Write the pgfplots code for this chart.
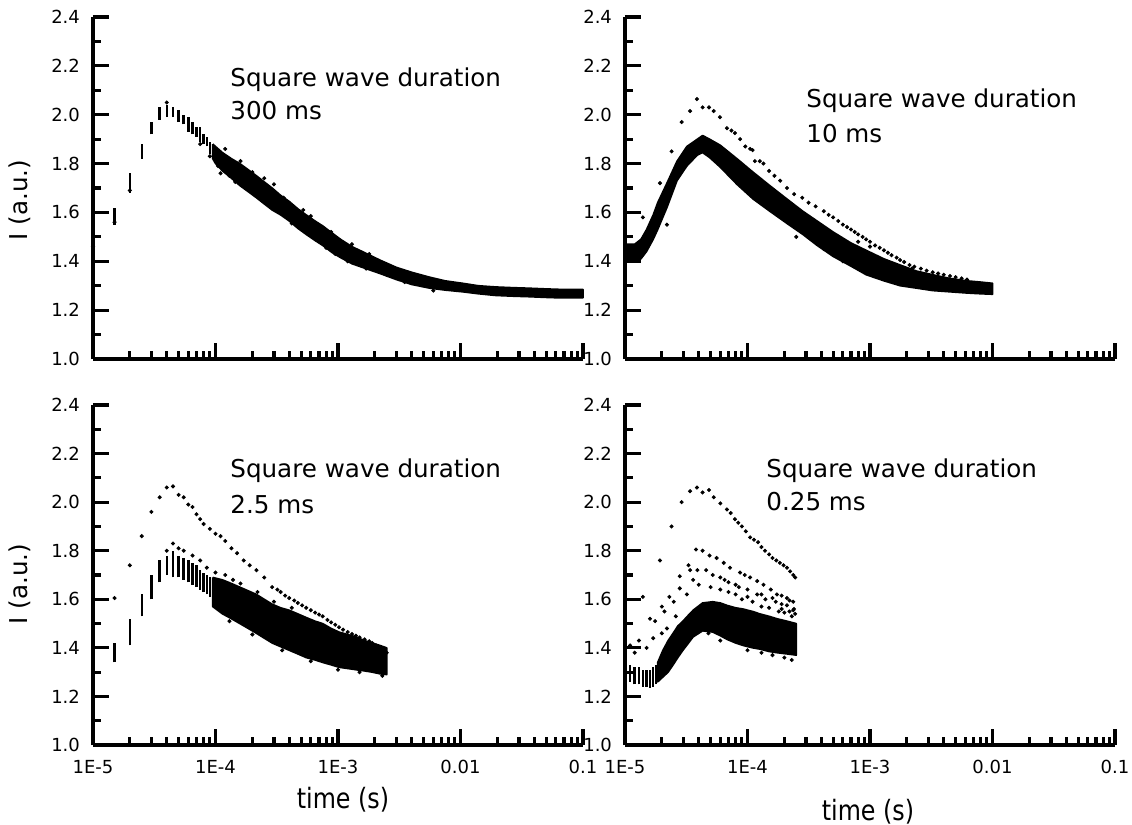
\documentclass[border=0pt]{standalone}
\usepackage{fontspec}
\setmainfont{DejaVu Sans}
\newfontfamily\condfont[FakeStretch=0.85]{DejaVu Sans}
\usepackage{pgfplots}
\pgfplotsset{compat=1.18}
\pgfplotsset{
  myPanel/.style={
    scale only axis, width=245pt,
    xmin=1e-5, xmax=0.1, ymin=1.0, ymax=2.4,
    axis lines=left, axis line style={-, line width=1.9pt},
    tick align=inside, major tick length=8pt, minor tick length=4pt,
    tick style={black, line width=1.6pt},
    major tick style={black, line width=1.6pt},
    minor tick style={black, line width=1.6pt},
    xtick={1e-5,1e-4,1e-3,1e-2,1e-1},
    minor xtick={2e-5,3e-5,4e-5,5e-5,6e-5,7e-5,8e-5,9e-5,2e-4,3e-4,4e-4,5e-4,6e-4,7e-4,8e-4,9e-4,2e-3,3e-3,4e-3,5e-3,6e-3,7e-3,8e-3,9e-3,2e-2,3e-2,4e-2,5e-2,6e-2,7e-2,8e-2,9e-2},
    ytick={1.0,1.2,1.4,1.6,1.8,2.0,2.2,2.4},
    minor ytick={1.1,1.3,1.5,1.7,1.9,2.1,2.3},
    tick label style={font=\fontsize{9}{10}\selectfont},
    yticklabel style={xshift=-3pt, /pgf/number format/fixed, /pgf/number format/fixed zerofill, /pgf/number format/precision=1, /pgf/number format/assume math mode=true},
    xticklabel style={yshift=-4pt},
    clip=false,
  },
  myDots/.style={only marks, mark=*, mark size=0.8pt, black, mark options={draw=black, fill=black}},
  myBand/.style={fill=black, draw=black, line width=0.8pt, line join=round, mark=none},
  myStripe/.style={black, line width=1.2pt, unbounded coords=jump, mark=none},
}
\begin{document}
\begin{tikzpicture}[x=1pt,y=1pt]
\useasboundingbox (0,0) rectangle (566,-412.5);

% ---------------- top left: 300 ms
\begin{semilogxaxis}[myPanel, height=171pt, at={(46.5pt,-179.5pt)}, anchor=south west, xticklabels={,,,,}]
\addplot[myStripe] coordinates {
(1.0e-5,1.45) (1.0e-5,1.50) (1.0e-5,nan)
(1.5e-5,1.55) (1.5e-5,1.62) (1.5e-5,nan)
(2.0e-5,1.68) (2.0e-5,1.76) (2.0e-5,nan)
(2.5e-5,1.82) (2.5e-5,1.88) (2.5e-5,nan)
(3.0e-5,1.92) (3.0e-5,1.97) (3.0e-5,nan)
(3.5e-5,1.98) (3.5e-5,2.03) (3.5e-5,nan)
(4.0e-5,1.99) (4.0e-5,2.04) (4.0e-5,nan)
(4.5e-5,1.99) (4.5e-5,2.03) (4.5e-5,nan)
(5.0e-5,1.97) (5.0e-5,2.02) (5.0e-5,nan)
(5.5e-5,1.96) (5.5e-5,2.00) (5.5e-5,nan)
(6.0e-5,1.93) (6.0e-5,1.99) (6.0e-5,nan)
(6.5e-5,1.92) (6.5e-5,1.97) (6.5e-5,nan)
(7.0e-5,1.91) (7.0e-5,1.95) (7.0e-5,nan)
(7.5e-5,1.89) (7.5e-5,1.95) (7.5e-5,nan)
(8.0e-5,1.88) (8.0e-5,1.92) (8.0e-5,nan)
(8.5e-5,1.87) (8.5e-5,1.91) (8.5e-5,nan)
(9.0e-5,1.84) (9.0e-5,1.89)
};
\addplot[myDots] coordinates {(4.0e-5,2.05) (1.5e-5,1.56) (2.0e-5,1.69) (7.5e-5,1.88) (9.0e-5,1.83) (1.0e-5,1.46)};
\addplot[myBand] coordinates {
(9.5e-5,1.88) (1.0e-4,1.87) (1.14e-4,1.845) (1.35e-4,1.82) (1.58e-4,1.80) (1.85e-4,1.775) (2.16e-4,1.75) (2.5e-4,1.725) (2.9e-4,1.70) (3.4e-4,1.67) (4.0e-4,1.645) (4.7e-4,1.615) (5.5e-4,1.59) (6.5e-4,1.565) (7.5e-4,1.545) (9.0e-4,1.515) (1.05e-3,1.49) (1.3e-3,1.46) (1.58e-3,1.44) (2.2e-3,1.405) (3.0e-3,1.375) (4.0e-3,1.355) (5.6e-3,1.335) (7.5e-3,1.32) (1.04e-2,1.31) (1.4e-2,1.30) (1.94e-2,1.295) (2.7e-2,1.292) (3.6e-2,1.29) (5.0e-2,1.287) (6.6e-2,1.285) (0.1,1.285)
(0.1,1.25) (6.6e-2,1.25) (5.0e-2,1.252) (3.6e-2,1.255) (2.7e-2,1.257) (1.94e-2,1.26) (1.4e-2,1.267) (1.04e-2,1.275) (7.5e-3,1.282) (5.6e-3,1.29) (4.0e-3,1.305) (3.0e-3,1.325) (2.2e-3,1.35) (1.58e-3,1.375) (1.3e-3,1.39) (1.05e-3,1.415) (9.0e-4,1.435) (7.5e-4,1.465) (6.5e-4,1.485) (5.5e-4,1.51) (4.7e-4,1.535) (4.0e-4,1.565) (3.4e-4,1.59) (2.9e-4,1.61) (2.5e-4,1.635) (2.16e-4,1.66) (1.85e-4,1.685) (1.58e-4,1.71) (1.35e-4,1.74) (1.14e-4,1.77) (1.0e-4,1.80) (9.5e-5,1.82) (9.5e-5,1.88)
};
\addplot[myDots] coordinates {(1.2e-4,1.86) (1.6e-4,1.81) (2.5e-4,1.74) (3.6e-4,1.66) (5.2e-4,1.61) (8.8e-4,1.52) (1.3e-3,1.47) (1.05e-4,1.79) (1.3e-4,1.75) (4.5e-4,1.55) (7.0e-4,1.49) (9.5e-4,1.43)
(1.1e-4,1.76) (1.45e-4,1.725) (2.0e-4,1.765) (3.0e-4,1.715) (4.2e-4,1.555) (6.0e-4,1.585) (8.0e-4,1.455) (1.2e-3,1.40) (1.8e-3,1.43) (2.5e-3,1.345) (3.5e-3,1.315) (1.7e-3,1.37) (6.0e-3,1.28)};
\end{semilogxaxis}

% ---------------- top right: 10 ms
\begin{semilogxaxis}[myPanel, height=171pt, at={(312.5pt,-179.5pt)}, anchor=south west, xticklabels={,,,,}]
\addplot[myBand] coordinates {
(1.0e-5,1.47) (1.2e-5,1.47) (1.35e-5,1.49) (1.5e-5,1.53) (1.7e-5,1.59) (1.85e-5,1.64) (2.2e-5,1.72) (2.66e-5,1.81) (3.2e-5,1.87) (3.9e-5,1.90) (4.3e-5,1.915) (4.9e-5,1.90) (6.0e-5,1.875) (8.2e-5,1.82) (1.11e-4,1.765) (1.52e-4,1.71) (2.1e-4,1.655) (2.83e-4,1.605) (3.7e-4,1.565) (5.0e-4,1.52) (7.0e-4,1.475) (9.3e-4,1.445) (1.3e-3,1.41) (1.76e-3,1.385) (2.4e-3,1.36) (3.25e-3,1.345) (4.5e-3,1.33) (6.2e-3,1.32) (8.0e-3,1.315) (1.0e-2,1.31)
(1.0e-2,1.265) (8.0e-3,1.267) (6.2e-3,1.27) (4.5e-3,1.275) (3.25e-3,1.28) (2.4e-3,1.29) (1.76e-3,1.30) (1.3e-3,1.32) (9.3e-4,1.345) (7.0e-4,1.38) (5.0e-4,1.42) (3.7e-4,1.465) (2.83e-4,1.51) (2.1e-4,1.555) (1.52e-4,1.605) (1.11e-4,1.655) (8.2e-5,1.715) (6.0e-5,1.785) (4.9e-5,1.825) (4.3e-5,1.845) (3.9e-5,1.835) (3.2e-5,1.79) (2.66e-5,1.73) (2.2e-5,1.62) (1.85e-5,1.53) (1.7e-5,1.49) (1.5e-5,1.44) (1.35e-5,1.41) (1.2e-5,1.40) (1.0e-5,1.40) (1.0e-5,1.47)
};
\addplot[myDots] coordinates {
(1.4e-5,1.58) (1.93e-5,1.72) (2.4e-5,1.85) (2.9e-5,1.97) (3.4e-5,2.015) (3.87e-5,2.064) (4.3e-5,2.03) (4.85e-5,2.03) (5.3e-5,2.015) (5.96e-5,1.99) (6.8e-5,1.945) (7.4e-5,1.935) (7.9e-5,1.925) (8.7e-5,1.90) (9.6e-5,1.87) (1.05e-4,1.86) (1.1e-4,1.855) (1.15e-4,1.81) (1.26e-4,1.81) (1.35e-4,1.80) (1.5e-4,1.77) (1.66e-4,1.75) (1.85e-4,1.73) (2.1e-4,1.70) (2.4e-4,1.675) (2.8e-4,1.66) (3.15e-4,1.64) (3.6e-4,1.625) (4.2e-4,1.605) (4.6e-4,1.59) (5.0e-4,1.58) (5.5e-4,1.565) (6.0e-4,1.55) (6.5e-4,1.54) (7.0e-4,1.53) (7.5e-4,1.52) (8.0e-4,1.51) (8.7e-4,1.50) (9.3e-4,1.49) (1.0e-3,1.48) (1.1e-3,1.465) (1.2e-3,1.455) (1.3e-3,1.445) (1.4e-3,1.435) (1.5e-3,1.425) (1.65e-3,1.415) (1.76e-3,1.405) (1.9e-3,1.397) (2.1e-3,1.385) (2.3e-3,1.378) (2.6e-3,1.37) (2.9e-3,1.362) (3.25e-3,1.355) (3.6e-3,1.35) (4.0e-3,1.345) (4.5e-3,1.34) (5.0e-3,1.335) (5.6e-3,1.33) (6.2e-3,1.325)
(1.6e-5,1.52) (2.2e-5,1.55) (3.1e-4,1.52) (1.8e-3,1.33) (6.0e-4,1.40) (4.2e-4,1.45) (2.5e-4,1.50) (1.3e-4,1.64) (1.0e-3,1.46) (2.2e-3,1.37) (8.0e-4,1.48) (1.4e-3,1.39)
};
\end{semilogxaxis}

% ---------------- bottom left: 2.5 ms
\begin{semilogxaxis}[myPanel, height=170pt, at={(46.5pt,-372.5pt)}, anchor=south west, xticklabels={1E-5,1E-4,1E-3,0.01,0.1}]
\addplot[myStripe] coordinates {
(1.5e-5,1.34) (1.5e-5,1.42) (1.5e-5,nan)
(2.0e-5,1.41) (2.0e-5,1.52) (2.0e-5,nan)
(2.5e-5,1.53) (2.5e-5,1.62) (2.5e-5,nan)
(3.0e-5,1.60) (3.0e-5,1.70) (3.0e-5,nan)
(3.5e-5,1.67) (3.5e-5,1.76) (3.5e-5,nan)
(4.0e-5,1.70) (4.0e-5,1.78) (4.0e-5,nan)
(4.5e-5,1.69) (4.5e-5,1.80) (4.5e-5,nan)
(5.0e-5,1.69) (5.0e-5,1.78) (5.0e-5,nan)
(5.5e-5,1.68) (5.5e-5,1.77) (5.5e-5,nan)
(6.0e-5,1.67) (6.0e-5,1.76) (6.0e-5,nan)
(6.5e-5,1.66) (6.5e-5,1.75) (6.5e-5,nan)
(7.0e-5,1.65) (7.0e-5,1.74) (7.0e-5,nan)
(7.5e-5,1.64) (7.5e-5,1.72) (7.5e-5,nan)
(8.0e-5,1.63) (8.0e-5,1.71) (8.0e-5,nan)
(8.5e-5,1.62) (8.5e-5,1.70) (8.5e-5,nan)
(9.0e-5,1.61) (9.0e-5,1.69)
};
\addplot[myBand] coordinates {
(9.5e-5,1.69) (1.14e-4,1.68) (1.35e-4,1.665) (1.58e-4,1.65) (1.85e-4,1.635) (2.16e-4,1.62) (2.5e-4,1.60) (2.9e-4,1.58) (3.4e-4,1.565) (4.0e-4,1.555) (4.7e-4,1.54) (5.5e-4,1.525) (6.5e-4,1.51) (7.5e-4,1.50) (8.8e-4,1.48) (1.02e-3,1.465) (1.2e-3,1.455) (1.4e-3,1.445) (1.65e-3,1.43) (1.9e-3,1.42) (2.2e-3,1.41) (2.5e-3,1.40)
(2.5e-3,1.29) (2.2e-3,1.293) (1.9e-3,1.30) (1.65e-3,1.305) (1.4e-3,1.31) (1.2e-3,1.315) (1.02e-3,1.32) (8.8e-4,1.33) (7.5e-4,1.34) (6.5e-4,1.35) (5.5e-4,1.36) (4.7e-4,1.375) (4.0e-4,1.39) (3.4e-4,1.405) (2.9e-4,1.42) (2.5e-4,1.44) (2.16e-4,1.46) (1.85e-4,1.48) (1.58e-4,1.50) (1.35e-4,1.52) (1.14e-4,1.54) (9.5e-5,1.57) (9.5e-5,1.69)
};
\addplot[myDots] coordinates {
(1.5e-5,1.605) (2.0e-5,1.74) (2.5e-5,1.86) (3.0e-5,1.96) (3.5e-5,2.02) (4.0e-5,2.06) (4.5e-5,2.065) (5.0e-5,2.03) (5.5e-5,2.02) (6.0e-5,1.99) (6.5e-5,1.98) (7.0e-5,1.95) (7.5e-5,1.93) (8.0e-5,1.91) (9.0e-5,1.89) (1.0e-4,1.87) (1.1e-4,1.86) (1.2e-4,1.84) (1.35e-4,1.81) (1.5e-4,1.79) (1.7e-4,1.76) (1.9e-4,1.74) (2.16e-4,1.72) (2.5e-4,1.69) (2.9e-4,1.65) (3.2e-4,1.64) (3.4e-4,1.63) (3.7e-4,1.615) (4.0e-4,1.605) (4.4e-4,1.595) (4.7e-4,1.585) (5.1e-4,1.575) (5.5e-4,1.565) (6.0e-4,1.555) (6.5e-4,1.545) (7.0e-4,1.537) (7.5e-4,1.53) (8.2e-4,1.515) (8.8e-4,1.505) (9.5e-4,1.495) (1.02e-3,1.485) (1.1e-3,1.475) (1.2e-3,1.465) (1.3e-3,1.457) (1.4e-3,1.45) (1.5e-3,1.443) (1.65e-3,1.435) (1.8e-3,1.427) (1.9e-3,1.42) (2.05e-3,1.41) (2.2e-3,1.40) (2.35e-3,1.39) (2.5e-3,1.38)
(4.0e-5,1.80) (4.5e-5,1.83) (5.0e-5,1.81) (5.5e-5,1.80) (6.5e-5,1.78) (7.5e-5,1.76) (8.5e-5,1.73) (1.0e-4,1.71) (1.2e-4,1.70) (1.39e-4,1.68) (1.6e-4,1.665)
(2.2e-4,1.63) (3.0e-4,1.59) (4.2e-4,1.565) (1.3e-4,1.51) (2.0e-4,1.455) (3.5e-4,1.39) (6.0e-4,1.345) (1.0e-3,1.31) (1.5e-3,1.30) (2.3e-3,1.285)
};
\end{semilogxaxis}

% ---------------- bottom right: 0.25 ms
\begin{semilogxaxis}[myPanel, height=170pt, at={(312.5pt,-372.5pt)}, anchor=south west, xticklabels={1E-5,1E-4,1E-3,0.01,0.1}]
\addplot[myStripe] coordinates {
(1.0e-5,1.27) (1.0e-5,1.35) (1.0e-5,nan)
(1.1e-5,1.26) (1.1e-5,1.33) (1.1e-5,nan)
(1.2e-5,1.25) (1.2e-5,1.32) (1.2e-5,nan)
(1.3e-5,1.25) (1.3e-5,1.32) (1.3e-5,nan)
(1.4e-5,1.24) (1.4e-5,1.31) (1.4e-5,nan)
(1.5e-5,1.24) (1.5e-5,1.31) (1.5e-5,nan)
(1.6e-5,1.235) (1.6e-5,1.31) (1.6e-5,nan)
(1.7e-5,1.24) (1.7e-5,1.32) (1.7e-5,nan)
(1.8e-5,1.25) (1.8e-5,1.33)
};
\addplot[myBand] coordinates {
(1.85e-5,1.34) (2.04e-5,1.39) (2.25e-5,1.43) (2.47e-5,1.46) (2.7e-5,1.49) (2.97e-5,1.51) (3.3e-5,1.535) (3.6e-5,1.555) (4.3e-5,1.585) (5.2e-5,1.59) (6.0e-5,1.585) (6.8e-5,1.575) (8.0e-5,1.565) (9.2e-5,1.56) (1.1e-4,1.55) (1.26e-4,1.54) (1.5e-4,1.53) (1.74e-4,1.52) (2.1e-4,1.51) (2.5e-4,1.50)
(2.5e-4,1.37) (2.1e-4,1.375) (1.74e-4,1.38) (1.5e-4,1.385) (1.26e-4,1.395) (1.1e-4,1.40) (9.2e-5,1.41) (8.0e-5,1.42) (6.8e-5,1.435) (6.0e-5,1.45) (5.2e-5,1.465) (4.3e-5,1.47) (3.6e-5,1.445) (3.3e-5,1.42) (2.97e-5,1.39) (2.7e-5,1.36) (2.47e-5,1.33) (2.25e-5,1.30) (2.04e-5,1.28) (1.85e-5,1.26) (1.85e-5,1.34)
};
\addplot[myDots] coordinates {
(1.4e-5,1.61) (1.93e-5,1.76) (2.4e-5,1.90) (2.9e-5,2.00) (3.4e-5,2.045) (3.87e-5,2.06) (4.3e-5,2.04) (4.85e-5,2.05) (5.3e-5,2.02) (6.0e-5,1.995) (6.8e-5,1.97) (7.3e-5,1.955) (7.9e-5,1.93) (8.4e-5,1.915) (9.0e-5,1.90) (9.7e-5,1.88) (1.05e-4,1.855) (1.13e-4,1.845) (1.22e-4,1.835) (1.3e-4,1.815) (1.39e-4,1.80) (1.5e-4,1.785) (1.6e-4,1.77) (1.72e-4,1.76) (1.84e-4,1.75) (1.97e-4,1.74) (2.1e-4,1.73) (2.23e-4,1.715) (2.36e-4,1.70) (2.45e-4,1.69)
(1.6e-5,1.52) (2.0e-5,1.57) (2.3e-5,1.61) (2.8e-5,1.695) (3.3e-5,1.74) (3.8e-5,1.805) (4.3e-5,1.80) (4.9e-5,1.78) (5.6e-5,1.77) (6.4e-5,1.75) (7.2e-5,1.73) (8.7e-5,1.71) (9.5e-5,1.70) (1.05e-4,1.69) (1.2e-4,1.675) (1.35e-4,1.66) (1.55e-4,1.64) (1.74e-4,1.62) (1.9e-4,1.615) (2.1e-4,1.605) (2.36e-4,1.59)
(1.3e-5,1.43) (1.76e-5,1.51) (2.1e-5,1.55) (2.5e-5,1.59) (2.8e-5,1.645) (3.4e-5,1.72) (3.9e-5,1.72) (4.6e-5,1.72) (5.2e-5,1.70) (6.0e-5,1.69) (7.0e-5,1.67) (8.5e-5,1.65) (1.0e-4,1.64) (1.2e-4,1.62) (1.4e-4,1.60) (1.7e-4,1.59) (2.1e-4,1.575) (2.36e-4,1.555)
(4.0e-5,1.66) (5.0e-5,1.65) (6.0e-5,1.64) (7.0e-5,1.63) (8.0e-5,1.62) (9.0e-5,1.60) (1.1e-4,1.59) (1.3e-4,1.57) (1.5e-4,1.565) (1.8e-4,1.55) (2.0e-4,1.545) (2.3e-4,1.53) (3.2e-5,1.62) (3.6e-5,1.68) (2.2e-5,1.48) (2.6e-5,1.53) (1.1e-5,1.41) (1.2e-5,1.38) (1.5e-5,1.40) (1.7e-5,1.44) (2.0e-5,1.46)
(1.6e-4,1.605) (1.9e-4,1.58) (2.2e-4,1.595) (2.4e-4,1.56) (1.3e-4,1.62) (1.0e-4,1.61) (8.0e-5,1.66) (6.5e-5,1.68) (2.45e-4,1.54) (2.2e-4,1.55) (1.9e-4,1.56)
(2.3e-4,1.35) (2.0e-4,1.36) (1.3e-4,1.38) (6.0e-5,1.43) (4.8e-5,1.46) (1.0e-4,1.39) (1.6e-4,1.37)
};
\end{semilogxaxis}

% annotations and axis titles
\node[anchor=base west, font=\fontsize{12.3}{14}\selectfont, inner sep=0] at (115,-43) {Square wave duration};
\node[anchor=base west, font=\fontsize{12.3}{14}\selectfont, inner sep=0] at (115,-59.5) {300 ms};
\node[anchor=base west, font=\fontsize{12.3}{14}\selectfont, inner sep=0] at (403,-53.5) {Square wave duration};
\node[anchor=base west, font=\fontsize{12.3}{14}\selectfont, inner sep=0] at (403,-71) {10 ms};
\node[anchor=base west, font=\fontsize{12.3}{14}\selectfont, inner sep=0] at (115,-238.5) {Square wave duration};
\node[anchor=base west, font=\fontsize{12.3}{14}\selectfont, inner sep=0] at (115,-256.5) {2.5 ms};
\node[anchor=base west, font=\fontsize{12.3}{14}\selectfont, inner sep=0] at (383,-238.5) {Square wave duration};
\node[anchor=base west, font=\fontsize{12.3}{14}\selectfont, inner sep=0] at (383,-255) {0.25 ms};
\node[rotate=90, font=\fontsize{12.3}{14}\selectfont, inner sep=0] at (10,-100) {I (a.u.)};
\node[rotate=90, font=\fontsize{12.3}{14}\selectfont, inner sep=0] at (10,-292) {I (a.u.)};
\node[font=\condfont\fontsize{14}{16}\selectfont, inner sep=0] at (171.5,-400) {time (s)};
\node[font=\condfont\fontsize{14}{16}\selectfont, inner sep=0] at (434,-406) {time (s)};
\end{tikzpicture}
\end{document}
